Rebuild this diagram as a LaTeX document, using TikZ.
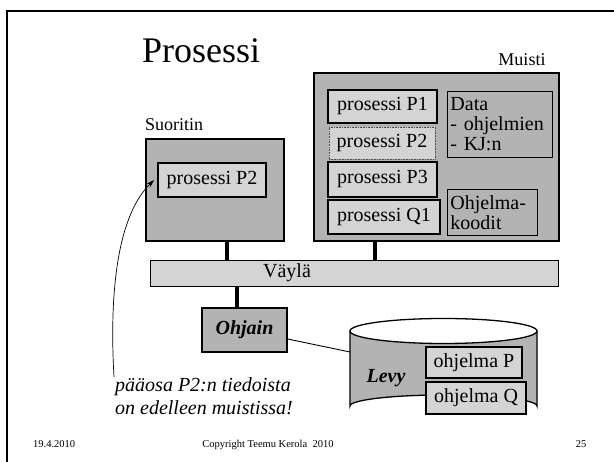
\documentclass[tikz,border=0pt]{standalone}
\usepackage{fontspec}
\setmainfont{Liberation Serif}
\usetikzlibrary{arrows.meta}
\definecolor{dgray}{HTML}{B3B3B3}
\definecolor{lgray}{HTML}{D4D4D4}
\tikzset{
  bodyfont/.style={font=\fontsize{20}{20}\selectfont},
  outerbox/.style={draw, fill=dgray, line width=1.8pt},
  procbox/.style={draw, fill=lgray, line width=2.6pt, bodyfont, inner sep=0pt, minimum height=33pt},
  ghostbox/.style={draw=black!70, densely dotted, fill=lgray, line width=0.6pt, bodyfont, inner sep=0pt, minimum height=32pt},
  infobox/.style={draw, fill=dgray, line width=0.9pt, bodyfont, align=left, anchor=north west, inner sep=0pt},
  prgbox/.style={draw, fill=lgray, line width=1.4pt, bodyfont, inner sep=0pt, minimum height=32pt},
  busline/.style={line width=3.5pt},
  footfont/.style={font=\fontsize{10.5}{10.5}\selectfont}
}
\begin{document}
\begin{tikzpicture}[x=1pt,y=-1pt]
\useasboundingbox (0,0) rectangle (614,462);
% slide frame
\draw[line width=2.4pt] (7,463) -- (7,11) -- (615,11);
% title
\node[anchor=base west, inner sep=0pt, font=\fontsize{36}{36}\selectfont] (title) at (142,63) {Prosessi};
% Muisti
\node[anchor=base, inner sep=0pt, font=\fontsize{18}{18}\selectfont] (muistilbl) at (522,66) {Muisti};
\node[outerbox, minimum width=245pt, minimum height=168pt, inner sep=0pt, anchor=north west] (muisti) at (313,72) {};
\node[procbox, minimum width=109pt] (p1) at (382.5,106.5) {prosessi P1};
\node[ghostbox, minimum width=106pt] (p2) at (382,143) {prosessi P2};
\node[procbox, minimum width=109pt, minimum height=35pt] (p3) at (382.5,179.5) {prosessi P3};
\node[procbox, minimum width=112pt, minimum height=34pt] (q1) at (384,217) {prosessi Q1};
\node[infobox, minimum width=105pt, minimum height=66pt, text width=99pt, inner xsep=3pt, inner ysep=3pt, text depth=40pt] (data) at (447,91) {Data\\- ohjelmien\\- KJ:n};
\node[infobox, minimum width=89pt, minimum height=46pt, text width=84pt, inner xsep=3pt, inner ysep=3pt, text depth=20pt] (koodit) at (447,189) {Ohjelma-\\koodit};
% Suoritin
\node[anchor=base west, inner sep=0pt, font=\fontsize{18}{18}\selectfont] (suorlbl) at (145,131) {Suoritin};
\node[outerbox, minimum width=138pt, minimum height=102pt, inner sep=0pt, anchor=north west] (suor) at (145,138) {};
\node[draw, fill=lgray, line width=1.8pt, bodyfont, inner sep=0pt, minimum width=108pt, minimum height=34pt] (p2in) at (212,180) {prosessi P2};
% bus
\node[draw, fill=lgray, line width=1.3pt, inner sep=0pt, minimum width=408pt, minimum height=26pt, anchor=north west] (bus) at (150,260) {};
\node[bodyfont, inner sep=0pt] (buslbl) at (287,273) {Väylä};
\coordinate (sdown) at (227,240);
\coordinate (sbus) at (227,260);
\coordinate (mdown) at (375,240);
\coordinate (mbus) at (375,260);
\draw[busline] (sdown) -- (sbus);
\draw[busline] (mdown) -- (mbus);
% Ohjain
\node[draw, fill=dgray, line width=1.3pt, inner sep=0pt, minimum width=85pt, minimum height=44pt, font=\fontsize{20}{20}\selectfont\bfseries\itshape] (ohjain) at (244.5,330) {Ohjain};
\coordinate (bdown) at (237,286);
\draw[busline] (bdown) -- (ohjain.north -| bdown);
% disk cylinder
\fill[dgray] (350,331) -- (350,406) arc[start angle=180, end angle=0, x radius=93.5pt, y radius=11pt] -- (537,331) arc[start angle=0, end angle=-180, x radius=93.5pt, y radius=12.5pt] -- cycle;
\draw[line width=1.3pt] (443.5,331) ellipse [x radius=93.5pt, y radius=12.5pt];
\draw[line width=1.3pt] (350,331) -- (350,406) arc[start angle=180, end angle=0, x radius=93.5pt, y radius=11pt] -- (537,331);
\coordinate (levyleft) at (350,352);
\draw[line width=0.9pt] (ohjain.east |- 0,339) -- (levyleft);
\node[inner sep=0pt, font=\fontsize{20}{20}\selectfont\bfseries\itshape] (levy) at (386,378) {Levy};
\node[prgbox, minimum width=96pt, minimum height=31pt] (op) at (474,362.5) {ohjelma P};
\node[prgbox, minimum width=100pt, minimum height=32pt] (oq) at (476,398) {ohjelma Q};
% curved arrow and caption
\coordinate (tail) at (114,377);
\draw[line width=0.7pt, -{Stealth[length=8pt,width=5pt]}] (tail) .. controls (109,290) and (118,215) .. ([xshift=-3pt]p2in.west);
\node[anchor=base, inner sep=0pt, font=\fontsize{20}{20}\selectfont\itshape] (cap1) at (203,392) {pääosa P2:n tiedoista};
\node[anchor=base, inner sep=0pt, font=\fontsize{20}{20}\selectfont\itshape] (cap2) at (204,415) {on edelleen muistissa!};
% footer
\node[anchor=base west, inner sep=0pt, footfont] (date) at (33,448) {19.4.2010};
\node[anchor=base, inner sep=0pt, footfont] (copy) at (268,448) {Copyright Teemu Kerola\ \ 2010};
\node[anchor=base, inner sep=0pt, footfont] (page) at (581,448) {25};
\end{tikzpicture}
\end{document}
